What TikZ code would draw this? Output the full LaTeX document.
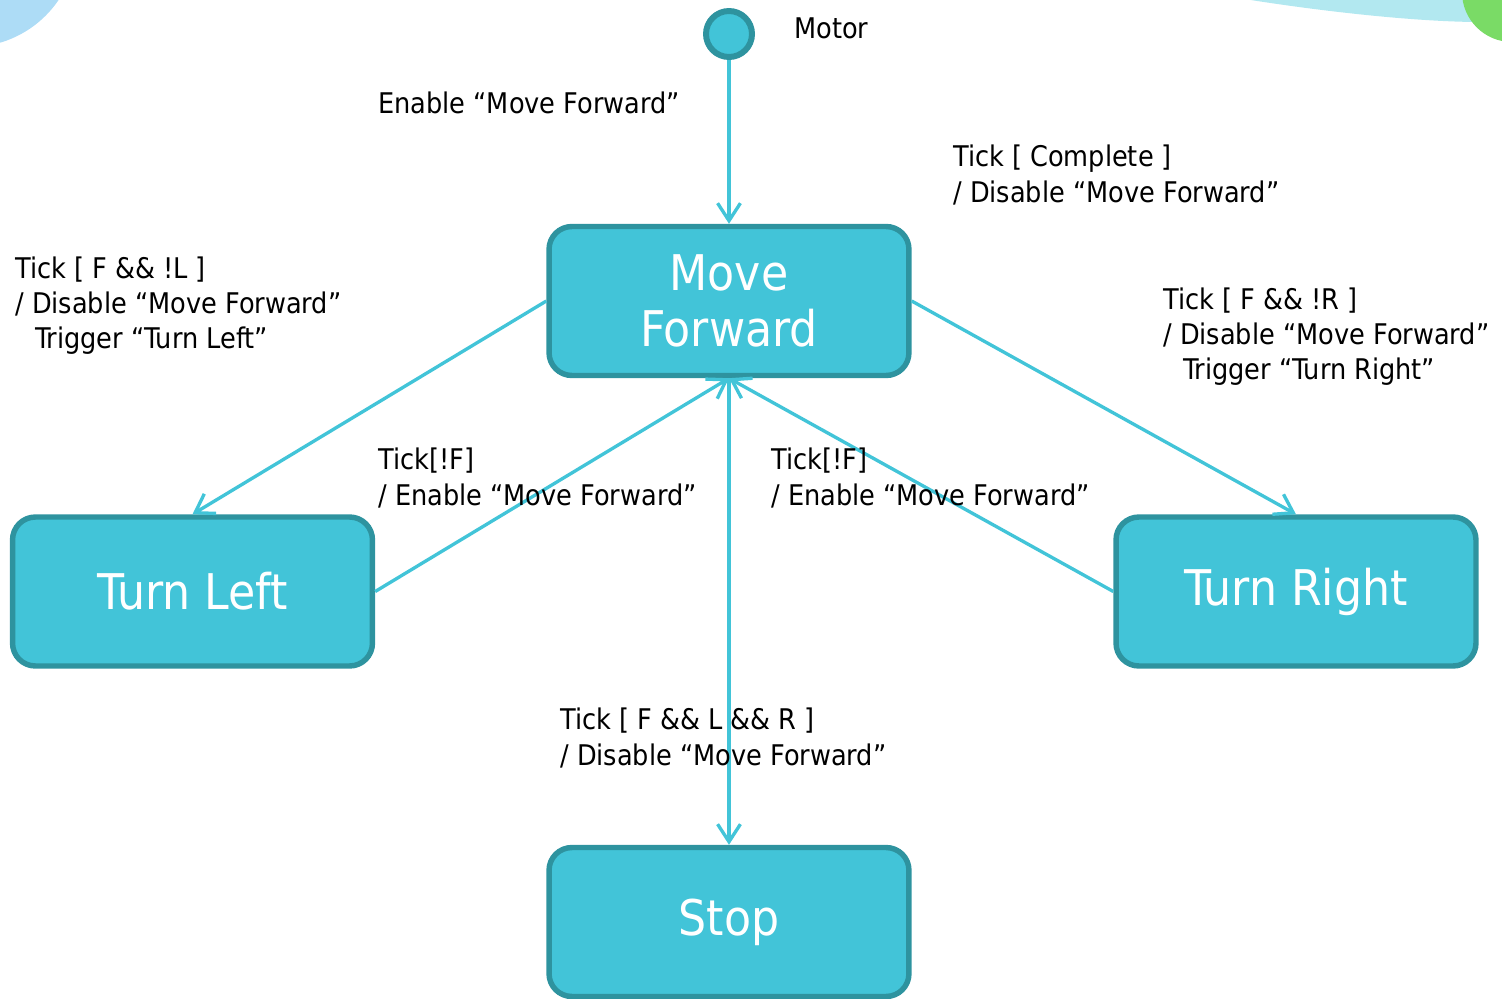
\documentclass[tikz,border=0pt]{standalone}
\usepackage{fontspec}
\setmainfont{DejaVu Sans Condensed}
\usepackage{tikz}
\usetikzlibrary{arrows.meta}
\definecolor{stfill}{HTML}{42C4D8}
\definecolor{stedge}{HTML}{2E939F}
\definecolor{decoblue}{HTML}{ADDCF6}
\definecolor{decocyan}{HTML}{B2E8F0}
\definecolor{decogreen}{HTML}{7ADB66}

\begin{document}
\begin{tikzpicture}
[x=0.02cm,y=-0.02cm]
\tikzset{
	state/.style = {draw=stedge, fill=stfill, line width=3.1pt, rounded corners=13pt, minimum width=7.2cm, minimum height=2.98cm, text=white, align=center, font=\fontsize{28}{32}\selectfont},
	initial/.style = {circle, draw=stedge, fill=stfill, line width=3.4pt, minimum size=0.92cm, inner sep=0},
	trans/.style = {draw=stfill, line width=1.9pt, -{Straight Barb[length=10pt,width=13pt]}},
	lbl/.style = {anchor=west, align=left, inner sep=0, font=\fontsize{16.2}{20}\selectfont}
}
\useasboundingbox (0,0) rectangle (1502,998);
\clip (0,0) rectangle (1502,998);

% corner decoration
\fill[decoblue] (-30,-60) circle[radius=2.14cm];
\fill[decocyan] (1220,-5) .. controls (1320,12) and (1420,22) .. (1480,22) -- (1480,-5) -- cycle;
\fill[decogreen] (1512,-8) circle[radius=1cm];

% states
\node(motor) [initial] at (729,34) {};
\node(mf) [state] at (729,301) {Move\\Forward};
\node(tl) [state] at (192.5,591.5) {\raisebox{-3pt}{Turn Left}};
\node(tr) [state] at (1296,591.5) {\raisebox{-3pt}{Turn Right}};
\node(stop) [state] at (729,922) {\raisebox{-4pt}{Stop}};

% transitions
\draw[trans] (motor) -- (mf.north);
\draw[trans] (mf.west) -- (tl.north);
\draw[trans] (mf.east) -- (tr.north);
\draw[trans] (tl.east) -- (mf.south);
\draw[trans] (tr.west) -- (mf.south);
\draw[trans] (mf.south) -- (stop.north);

% labels
\node(lblMotor) [lbl] at (794,28) {Motor};
\node(lblEnable) [lbl] at (378,103) {Enable “Move Forward”};
\node(lblComplete) [lbl] at (953,175) {Tick [ Complete ]\\/ Disable “Move Forward”};
\node(lblLeft) [lbl] at (15,306) {Tick [ F \&\& !L ]\\/ Disable “Move Forward”\\\hspace*{0.7em}Trigger “Turn Left”};
\node(lblRight) [lbl] at (1163,337) {Tick [ F \&\& !R ]\\/ Disable “Move Forward”\\\hspace*{0.7em}Trigger “Turn Right”};
\node(lblBackL) [lbl] at (378,478) {Tick[!F]\\/ Enable “Move Forward”};
\node(lblBackR) [lbl] at (771,478) {Tick[!F]\\/ Enable “Move Forward”};
\node(lblStop) [lbl] at (560,738) {Tick [ F \&\& L \&\& R ]\\/ Disable “Move Forward”};

\end{tikzpicture}
\end{document}
